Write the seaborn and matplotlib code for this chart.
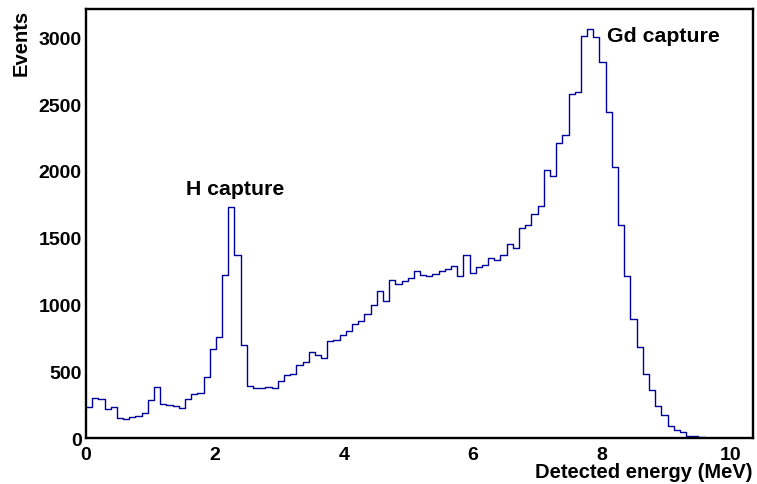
import numpy as np
import pandas as pd
import matplotlib
matplotlib.use("Agg")
import matplotlib.pyplot as plt
import seaborn as sns

# Energiespektrum, 0.096 MeV Bins
bin_width = 0.096
counts = [
    230, 300, 290, 218, 230, 152, 141, 158, 166, 184,
    287, 380, 252, 250, 240, 222, 290, 333, 338, 455,
    668, 757, 1220, 1728, 1373, 698, 388, 373, 373, 383,
    375, 430, 470, 479, 550, 567, 642, 620, 603, 723,
    732, 768, 802, 854, 877, 926, 995, 1100, 1024, 1180,
    1153, 1173, 1198, 1248, 1223, 1213, 1225, 1248, 1263, 1290,
    1210, 1373, 1235, 1284, 1296, 1350, 1336, 1373, 1450, 1422,
    1573, 1592, 1681, 1738, 2004, 1960, 2213, 2268, 2573, 2588,
    3013, 3060, 3005, 2815, 2443, 2028, 1592, 1210, 893, 680,
    480, 363, 237, 175, 93, 60, 43, 18, 12, 4,
    2, 0, 0, 0, 0, 0, 0, 0,
]
x_ticks = [0, 2, 4, 6, 8, 10]
y_ticks = [0, 500, 1000, 1500, 2000, 2500, 3000]
peak_labels = ["H capture", "Gd capture"]

n_bins = len(counts)
df = pd.DataFrame({"energy": (np.arange(n_bins) + 0.5) * bin_width, "count": counts})

sns.set_style("white")
plt.rcParams["font.family"] = ["Liberation Sans", "DejaVu Sans"]
plt.rcParams["font.weight"] = "bold"
plt.rcParams["text.color"] = "black"
plt.rcParams["axes.labelcolor"] = "black"

fig = plt.figure(figsize=(7.57, 4.85), dpi=100)
ax = fig.add_axes([0.1136, 0.0948, 0.8811, 0.8846])

sns.histplot(data=df, x="energy", weights="count", binwidth=bin_width,
             binrange=(0, n_bins * bin_width), element="step",
             fill=False, color="#00009c", linewidth=1.0, ax=ax)

ax.set_xlim(0, 10.35)
ax.set_ylim(0, 3213)
ax.set_xticks(x_ticks)
ax.set_yticks(y_ticks)
ax.tick_params(axis="x", direction="in", length=8.6, width=1.5, pad=5.5,
               labelsize=14, colors="black")
ax.tick_params(axis="y", direction="in", length=14.4, width=1.5, pad=3,
               labelsize=14, colors="black")
for lab in ax.get_xticklabels() + ax.get_yticklabels():
    lab.set_fontweight("bold")
for sp in ax.spines.values():
    sp.set_linewidth(1.7)
    sp.set_color("black")

ax.set_xlabel("Detected energy (MeV)", fontsize=14.5, fontweight="bold", loc="right")
ax.xaxis.set_label_coords(1.0, -0.056)
ax.set_ylabel("Events", fontsize=14.5, fontweight="bold", loc="top")
ax.yaxis.set_label_coords(-0.083, 1.0)

ax.text(2.31, 1830, peak_labels[0], ha="center", va="baseline",
        fontsize=15.3, fontweight="bold")
ax.text(8.08, 2970, peak_labels[1], ha="left", va="baseline",
        fontsize=15.3, fontweight="bold")

fig.savefig("out.png", dpi=100)
